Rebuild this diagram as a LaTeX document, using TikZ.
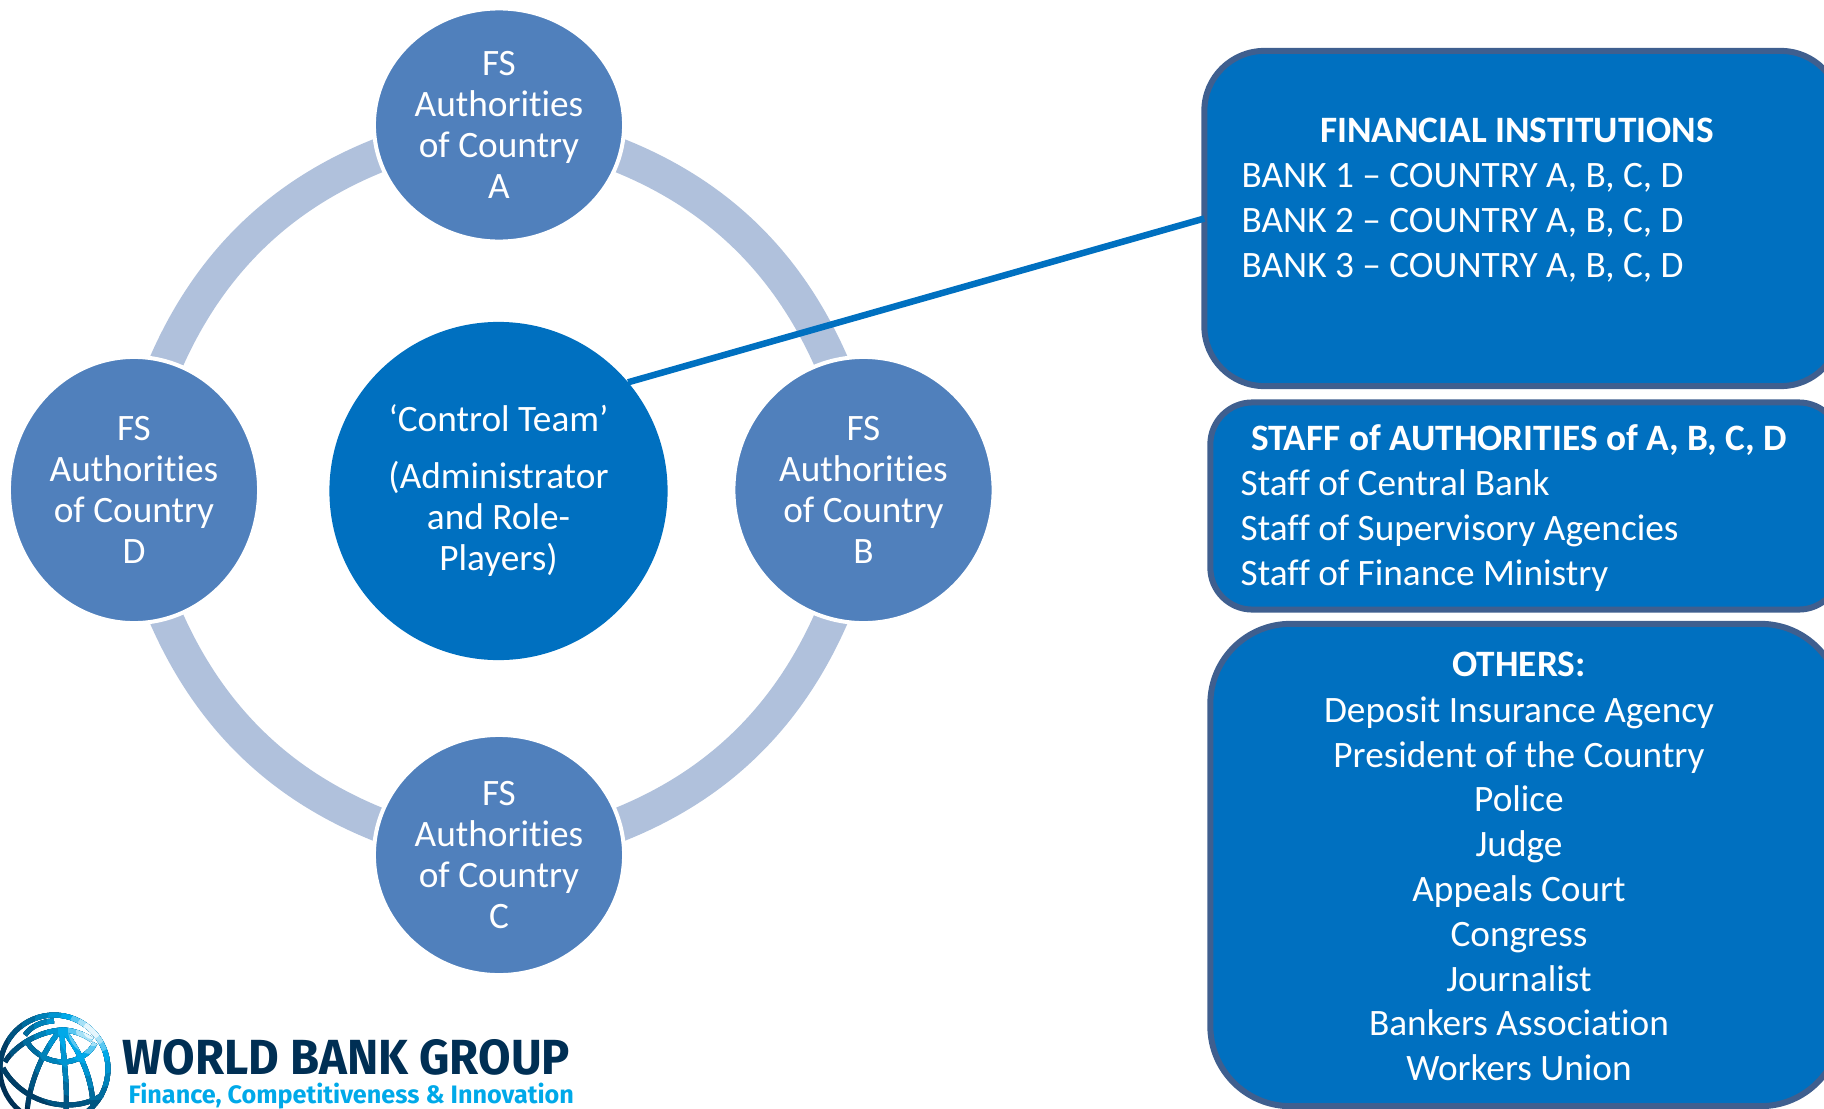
\documentclass[tikz,border=0pt]{standalone}
\usepackage{graphicx}
\usepackage{fontspec}
\setmainfont[Ligatures=NoCommon]{Carlito}
\newfontfamily\logofont{Fira Sans}
\usetikzlibrary{shapes.geometric,backgrounds}

\definecolor{authblue}{HTML}{5080BC}
\definecolor{teamblue}{HTML}{0070C0}
\definecolor{ringblue}{HTML}{B0C1DC}
\definecolor{edgeblue}{HTML}{3F5F8F}
\definecolor{logonavy}{HTML}{002F54}
\definecolor{logocyan}{HTML}{00A9E9}

\newcommand{\globelines}{
  \draw (54,1069) circle[radius=54];
  \draw (62,1029) .. controls (50,1040) and (30,1075) .. (27,1112);
  \draw (62,1029) .. controls (62,1050) and (68,1080) .. (66,1112);
  \draw (62,1029) .. controls (72,1040) and (92,1070) .. (93,1106);
  \draw (27,1042) .. controls (35,1055) and (50,1062) .. (63,1062) .. controls (76,1062) and (90,1054) .. (95,1043);
  \draw (5,1062) .. controls (15,1045) and (40,1031) .. (62,1030) .. controls (72,1030) and (84,1034) .. (92,1040);
  \draw (25,1035) .. controls (30,1027) and (42,1021) .. (54,1021);
  \draw (3,1068) .. controls (15,1090) and (40,1105) .. (67,1105) .. controls (80,1105) and (92,1102) .. (102,1095);
}

\tikzset{
  auth/.style={ellipse,fill=authblue,draw=white,line width=.04cm,inner sep=0pt,outer sep=0pt,
    text=white,align=center,font=\fontsize{10.6}{11.65}\selectfont},
  team/.style={auth,fill=teamblue,draw=none,minimum width=3.38cm,minimum height=3.38cm},
  ringlink/.style={ringblue,line width=.34cm,looseness=.89,shorten <=-.2cm,shorten >=-.2cm},
  infobox/.style={rectangle,fill=teamblue,draw=edgeblue,line width=.06cm,inner sep=0pt,outer sep=0pt},
  infotext/.style={text=white,inner sep=0pt,text height=.27cm,text depth=.04cm,font=\fontsize{10.6}{12.8}\selectfont},
  infoleft/.style={infotext,anchor=west},
  infohead/.style={infotext,font=\fontsize{10.6}{12.8}\selectfont\bfseries}
}

\begin{document}
\begin{tikzpicture}[x=.01cm,y=-.01cm]
  \clip (0,0) rectangle (1824,1109);

  % the four authorities and the team
  \node[auth,minimum width=2.5cm,minimum height=2.33cm] (ca) at (499,125) {FS\\Authorities\\of Country\\A};
  \node[auth,minimum width=2.6cm,minimum height=2.66cm] (cb) at (863.5,490) {FS\\Authorities\\of Country\\B};
  \node[auth,minimum width=2.5cm,minimum height=2.4cm] (cc) at (499,855) {FS\\Authorities\\of Country\\C};
  \node[auth,minimum width=2.5cm,minimum height=2.66cm] (cd) at (134,490) {FS\\Authorities\\of Country\\D};
  \node[team] (ct) at (498.5,491) {‘Control Team’\\[.16cm](Administrator\\and Role-\\Players)};

  % ring behind the circles
  \begin{scope}[on background layer]
    \draw[ringlink] (ca.-14) to[out=-19.5,in=111.6] (cb.104);
    \draw[ringlink] (cb.-104) to[out=-111.6,in=19.5] (cc.14);
    \draw[ringlink] (cc.166) to[out=160.5,in=-68.4] (cd.-76);
    \draw[ringlink] (cd.76) to[out=68.4,in=-160.5] (ca.194);
  \end{scope}

  % boxes on the right
  \node[infobox,rounded corners=.6cm,minimum width=6.36cm,minimum height=3.35cm] (fi) at (1522.5,218.5) {};
  \node[infobox,rounded corners=.42cm,minimum width=6.3cm,minimum height=2.07cm] (st) at (1525.5,506) {};
  \node[infobox,rounded corners=.8cm,minimum width=6.3cm,minimum height=4.82cm] (ot) at (1525.5,865) {};

  \draw[teamblue,line width=.065cm] (ct.40) -- (fi.west);

  \node[infohead] (fihead) at (1517,131) {FINANCIAL INSTITUTIONS};
  \node[infoleft] (bank1) at (1241,176) {BANK 1 – COUNTRY A, B, C, D};
  \node[infoleft] (bank2) at (1241,221) {BANK 2 – COUNTRY A, B, C, D};
  \node[infoleft] (bank3) at (1241,266) {BANK 3 – COUNTRY A, B, C, D};

  \node[infohead] (sthead) at (1519,439) {STAFF of AUTHORITIES of A, B, C, D};
  \node[infoleft] (st1) at (1240,484) {Staff of Central Bank};
  \node[infoleft] (st2) at (1240,529) {Staff of Supervisory Agencies};
  \node[infoleft] (st3) at (1240,574) {Staff of Finance Ministry};

  \node[infohead] (othead) at (1519,665) {OTHERS:};
  \node[infotext] (ot1) at (1519,711) {Deposit Insurance Agency};
  \node[infotext] (ot2) at (1519,756) {President of the Country};
  \node[infotext] (ot3) at (1519,800) {Police};
  \node[infotext] (ot4) at (1519,845) {Judge};
  \node[infotext] (ot5) at (1519,890) {Appeals Court};
  \node[infotext] (ot6) at (1519,935) {Congress};
  \node[infotext] (ot7) at (1519,980) {Journalist};
  \node[infotext] (ot8) at (1519,1024) {Bankers Association};
  \node[infotext] (ot9) at (1519,1069) {Workers Union};

  % logo
  \foreach \rad/\mix in {130/0,100/12,85/30,70/50,58/68,46/84,34/100} {
    \begin{scope}[line width=.05cm,draw=logocyan!\mix!logonavy]
      \clip (92,1030) circle[radius=\rad];
      \globelines
    \end{scope}
  }
  \foreach \rad/\mix in {24/65,16/35,9/10} {
    \begin{scope}[line width=.05cm,draw=logocyan!\mix!white]
      \clip (92,1030) circle[radius=\rad];
      \globelines
    \end{scope}
  }
  \node[anchor=west,inner sep=0pt,text=logonavy] (wbg) at (122,1057.5)
    {\resizebox{4.47cm}{.35cm}{\logofont\bfseries WORLD BANK GROUP}};
  \node[anchor=west,inner sep=0pt,text=logocyan] (fci) at (128,1096.5)
    {\resizebox{4.45cm}{!}{\logofont\bfseries Finance, Competitiveness \& Innovation}};
\end{tikzpicture}
\end{document}
